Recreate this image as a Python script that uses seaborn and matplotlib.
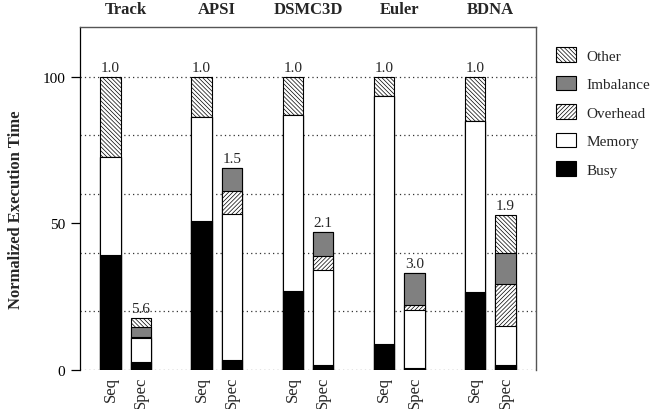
import numpy as np
import pandas as pd
import matplotlib
matplotlib.use("Agg")
import matplotlib.pyplot as plt
import matplotlib.transforms as mtransforms
from matplotlib.patches import Patch
import seaborn as sns

# ---------------- data ----------------
benchmarks = ["Track", "APSI", "DSMC3D", "Euler", "BDNA"]
kinds = ["Seq", "Spec"]
components = ["Busy", "Memory", "Overhead", "Imbalance", "Other"]

seq_busy = [39.2, 50.7, 27.1, 8.9, 26.5]
seq_memory = [33.4, 35.5, 59.9, 84.4, 58.4]
seq_overhead = [0.0, 0.0, 0.0, 0.0, 0.0]
seq_imbalance = [0.0, 0.0, 0.0, 0.0, 0.0]
seq_other = [27.4, 13.8, 13.0, 6.7, 15.1]

spec_busy = [2.6, 3.4, 1.8, 0.7, 1.7]
spec_memory = [8.2, 49.8, 32.4, 19.8, 13.2]
spec_overhead = [0.5, 7.8, 4.8, 1.8, 14.5]
spec_imbalance = [3.5, 7.9, 8.1, 10.8, 10.4]
spec_other = [3.0, 0.0, 0.0, 0.0, 13.2]

seq_speedup = [1.0, 1.0, 1.0, 1.0, 1.0]
spec_speedup = [5.6, 1.5, 2.1, 3.0, 1.9]

# ---------------- styles ----------------
styles = {
    "Busy": dict(color="black", hatch=None),
    "Memory": dict(color="white", hatch=None),
    "Overhead": dict(color="white", hatch="////////"),
    "Imbalance": dict(color="#808080", hatch=None),
    "Other": dict(color="white", hatch="\\\\\\\\\\\\\\\\"),
}

sns.set_style("white")
plt.rcParams["font.family"] = ["Liberation Serif", "DejaVu Serif"]
plt.rcParams["hatch.linewidth"] = 0.5
plt.rcParams["hatch.color"] = "black"

# build long table of cumulative tops
rows = []
seq_parts = dict(Busy=seq_busy, Memory=seq_memory, Overhead=seq_overhead,
                 Imbalance=seq_imbalance, Other=seq_other)
spec_parts = dict(Busy=spec_busy, Memory=spec_memory, Overhead=spec_overhead,
                  Imbalance=spec_imbalance, Other=spec_other)
for kind, parts in (("Seq", seq_parts), ("Spec", spec_parts)):
    for i, b in enumerate(benchmarks):
        cum = 0.0
        for c in components:
            cum += parts[c][i]
            rows.append(dict(bench=b, kind=kind, component=c, top=cum))
df = pd.DataFrame(rows)

fig = plt.figure(figsize=(6.56, 4.10), dpi=100)
ax = fig.add_axes([80 / 656, (410 - 371) / 410, (536 - 80) / 656, (371 - 28) / 410])

# gridlines
for y in [0, 20, 40, 60, 80, 100]:
    ax.axhline(y, color="#333333", linestyle=(0, (1, 2.5)), linewidth=0.9, zorder=0)

# draw layers from the top down so lower segments overlap
for c in reversed(components):
    sub = df[df.component == c]
    st = styles[c]
    sns.barplot(data=sub, x="bench", y="top", hue="kind", order=benchmarks,
                hue_order=kinds, dodge=True, width=2 / 3, gap=0.325,
                palette={"Seq": st["color"], "Spec": st["color"]},
                saturation=1, edgecolor="black", linewidth=0.8,
                hatch=st["hatch"], errorbar=None, legend=False, ax=ax, zorder=2)

ax.set_xlim(-0.5, len(benchmarks) - 0.5)
ax.set_ylim(0, 117)
ax.set_yticks([0, 50, 100])
ax.tick_params(axis="y", direction="out", length=6.5, width=0.9, pad=4,
               labelsize=11, colors="black", left=True)

# x tick labels Seq/Spec under each bar
xt, xl = [], []
for i in range(len(benchmarks)):
    xt += [i - 1 / 6, i + 1 / 6]
    xl += kinds
ax.set_xticks(xt)
ax.set_xticklabels(xl, rotation=90, fontsize=12)
ax.tick_params(axis="x", length=0, pad=4)
ax.set_xlabel("")
ax.set_ylabel("Normalized Execution Time", fontsize=12, fontweight="bold")
ax.yaxis.set_label_coords(-0.122, 0.47)

for s in ["top", "right"]:
    ax.spines[s].set_color("#555555")
    ax.spines[s].set_linewidth(1.0)
ax.spines["left"].set_color("black")
ax.spines["left"].set_linewidth(0.9)
ax.spines["bottom"].set_visible(False)

# speedup labels
for i in range(len(benchmarks)):
    seq_tot = sum(seq_parts[c][i] for c in components)
    spec_tot = sum(spec_parts[c][i] for c in components)
    ax.text(i - 1 / 6, seq_tot + 1.0, f"{seq_speedup[i]:.1f}", ha="center",
            va="bottom", fontsize=11)
    ax.text(i + 1 / 6, spec_tot + 1.0, f"{spec_speedup[i]:.1f}", ha="center",
            va="bottom", fontsize=11)

# group names at top
trans = mtransforms.blended_transform_factory(ax.transData, ax.transAxes)
for i, b in enumerate(benchmarks):
    ax.text(i, 1.03, b, transform=trans, ha="center", va="bottom",
            fontsize=12, fontweight="bold")

# legend
handles = [Patch(facecolor=styles[c]["color"], edgecolor="black",
                 hatch=styles[c]["hatch"], linewidth=0.8, label=c)
           for c in reversed(components)]
fig.legend(handles=handles, loc="upper left",
           bbox_to_anchor=(556 / 656, 1 - 48 / 410), bbox_transform=fig.transFigure,
           frameon=False, fontsize=11, handlelength=1.3, handleheight=1.1,
           labelspacing=0.85, handletextpad=0.7, borderpad=0, borderaxespad=0)

fig.savefig("out.png", dpi=100)
